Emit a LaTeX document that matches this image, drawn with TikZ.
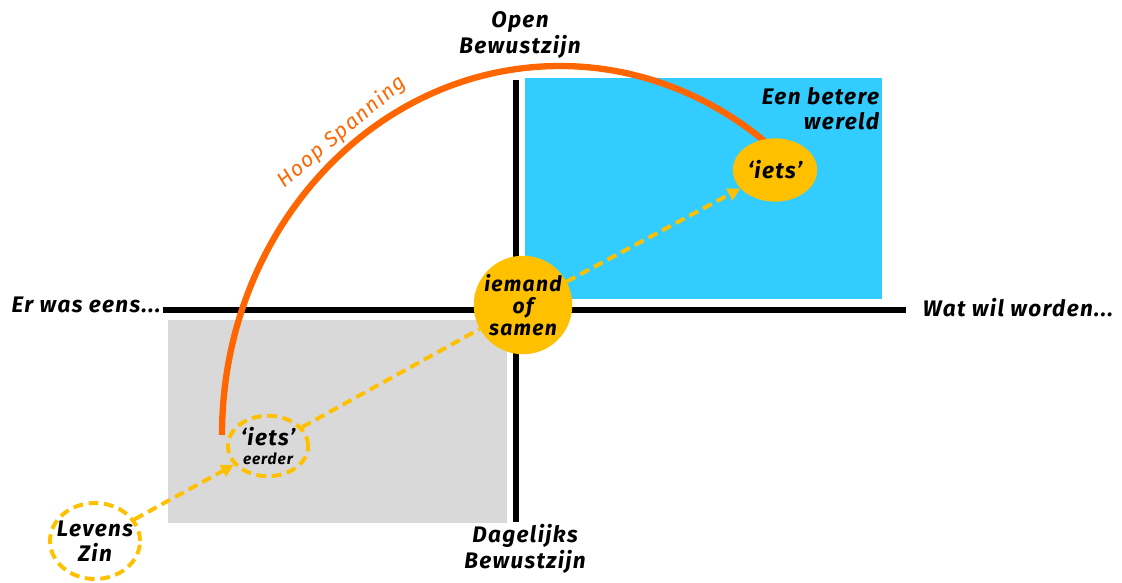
\documentclass[tikz,border=0pt]{standalone}
\usepackage{fontspec}
\setmainfont{Fira Sans}[LetterSpace=6]
\usetikzlibrary{shapes.geometric,arrows.meta}

\definecolor{hoop}{HTML}{FF6600}
\definecolor{goud}{HTML}{FFC000}
\definecolor{lucht}{HTML}{33CCFF}
\definecolor{grijs}{HTML}{D9D9D9}

\tikzset{
  tekst/.style={font=\fontsize{16}{18}\selectfont\bfseries\itshape, align=center},
  stip/.style={draw=goud, line width=2.8pt, dash pattern=on 7pt off 4pt},
  pijl/.style={stip, -{Triangle[length=9pt,width=9pt,fill=goud]}},
}

\begin{document}
\begin{tikzpicture}[x=0.025cm, y=-0.025cm]

    % Fix the size of the picture to the reference
    \useasboundingbox (0,0) rectangle (1122,583);

    % Draw the two coloured quadrants
    \fill[grijs] (168,320) rectangle (507,523);
    \fill[lucht] (525,78) rectangle (882,299);

    % Draw the two axes
    \draw[line width=3.6pt] (163,310) -- (906,310);
    \draw[line width=3.6pt] (516,80) -- (516,522);

    % Draw the arc of hope
    \draw[hoop, line width=4.5pt] (222,435) arc[start angle=180, end angle=310, x radius=338, y radius=369];
    \node[text=hoop, rotate=40, font=\fontsize{15}{18}\selectfont\itshape] (spanning) at (342,132) {Hoop Spanning};

    % Put the points on the way
    \node[tekst, circle, fill=goud, minimum size=68pt, inner sep=0pt, font=\fontsize{15}{15.5}\selectfont\bfseries\itshape] (iemand) at (523,305) {iemand\\of\\samen};
    \node[tekst, ellipse, fill=goud, minimum width=60pt, minimum height=45pt, inner sep=0pt] (iets) at (775,170) {`iets'};
    \node[tekst, ellipse, stip, minimum width=57pt, minimum height=43pt, inner sep=0pt] (eerder) at (268,446) {`iets'\\[-4pt]{\fontsize{11}{12}\selectfont eerder}};
    \node[tekst, ellipse, stip, minimum width=64pt, minimum height=54pt, inner xsep=-5pt, inner ysep=0pt] (levens) at (95,541) {Levens\\Zin};

    % Connect them with dashed arrows
    \draw[pijl] (levens) -- (eerder);
    \draw[stip] (eerder) -- (iemand);
    \draw[pijl] (iemand) -- (iets);

    % Add the labels of the axes
    \node[tekst] (ooit) at (86,305) {Er was eens...};
    \node[tekst] (worden) at (1018,308) {Wat wil worden...};
    \node[tekst] (open) at (520,35) {Open\\Bewustzijn};
    \node[tekst] (dagelijks) at (525,549) {Dagelijks\\Bewustzijn};
    \node[tekst, align=right, anchor=north east] (wereld) at (884,82) {Een betere\\wereld};

\end{tikzpicture}
\end{document}
